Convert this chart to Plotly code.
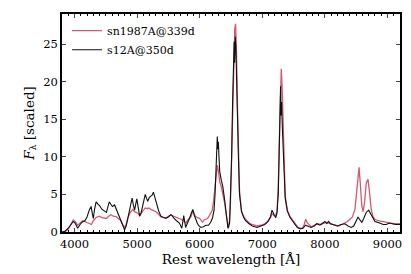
import plotly.graph_objects as go

# s12A@350d (black)
wl_s12 = [3800,3850,3900,3940,3980,4010,4050,4090,4120,4165,4200,4235,4265,4285,4300,4320,4345,4375,4400,4440,4480,4510,4535,4555,4580,4605,4640,4665,4690,4730,4770,4800,4825,4850,4880,4900,4920,4940,4960,4980,4995,5015,5040,5065,5090,5115,5130,5150,5170,5195,5215,5240,5260,5285,5310,5345,5380,5420,5460,5500,5540,5565,5590,5630,5675,5715,5745,5775,5810,5840,5870,5890,5915,5940,5965,5990,6017,6060,6097,6140,6176,6205,6229,6245,6258,6270,6281,6290,6298,6308,6320,6345,6370,6398,6425,6451,6478,6495,6510,6525,6540,6550,6558,6568,6578,6590,6605,6620,6636,6668,6700,6732,6790,6840,6916,6980,7040,7090,7130,7155,7175,7195,7215,7235,7255,7270,7283,7292,7300,7308,7320,7335,7350,7366,7400,7440,7480,7520,7560,7610,7650,7690,7730,7780,7830,7870,7920,7970,8000,8030,8060,8090,8140,8200,8260,8320,8370,8420,8460,8500,8530,8560,8590,8620,8660,8700,8740,8770,8800,8875,8930,8980,9030,9080,9130,9200]
fl_s12 = [0.0,0.1,0.5,1.0,1.4,1.2,0.5,1.0,1.3,1.5,2.0,2.9,3.4,2.4,1.8,3.0,4.0,3.7,3.5,3.0,2.8,2.6,3.4,4.0,3.7,3.4,3.6,3.1,2.6,1.9,1.0,0.3,0.8,1.9,2.8,3.6,4.5,3.6,2.9,3.8,4.4,3.4,2.1,2.6,3.6,4.6,5.0,4.5,4.1,4.6,4.8,4.9,5.3,4.6,3.6,2.8,2.1,1.9,1.8,2.0,2.3,2.1,1.8,1.5,1.2,0.5,2.2,0.6,1.2,1.9,2.6,3.0,2.2,1.5,1.1,0.8,0.6,0.7,0.9,0.9,1.3,1.9,2.9,5.0,7.5,10.5,12.7,11.0,12.0,10.0,8.0,6.9,6.0,4.3,2.1,0.5,1.2,5.0,10.0,17.0,24.3,25.3,22.5,26.0,24.5,19.0,14.0,9.5,5.0,2.7,2.0,1.5,1.1,0.8,0.6,0.8,1.0,1.4,2.0,2.9,2.4,2.2,1.9,2.5,5.0,10.0,17.0,19.4,15.5,17.3,14.0,10.5,7.5,4.5,2.8,2.0,1.5,1.0,0.6,0.4,0.5,0.9,0.8,0.6,0.8,1.1,0.9,1.2,1.4,1.1,1.4,1.1,1.0,0.8,1.0,1.1,0.8,0.6,0.8,1.4,2.0,1.6,1.3,1.8,2.6,2.9,2.3,1.7,1.4,1.2,1.0,1.0,1.2,1.1,1.0,1.0]

# sn1987A@339d (red)
wl_87a = [3800,3860,3900,3940,3980,4010,4050,4090,4130,4165,4200,4240,4270,4300,4340,4370,4400,4440,4480,4510,4545,4580,4620,4670,4700,4730,4770,4800,4825,4850,4890,4930,4960,4985,5010,5040,5070,5100,5130,5160,5190,5220,5260,5300,5340,5380,5420,5460,5500,5540,5580,5620,5660,5700,5740,5780,5820,5860,5890,5905,5930,5965,6000,6045,6070,6100,6125,6150,6180,6200,6220,6240,6260,6281,6300,6320,6345,6370,6400,6420,6440,6460,6475,6490,6505,6525,6545,6560,6573,6588,6605,6625,6636,6668,6700,6732,6790,6837,6916,6980,7040,7090,7130,7155,7180,7210,7235,7255,7272,7288,7303,7318,7335,7350,7366,7400,7440,7482,7520,7560,7600,7640,7670,7693,7720,7780,7830,7880,7930,7980,8030,8080,8140,8213,8270,8320,8360,8400,8440,8480,8510,8530,8546,8565,8590,8610,8635,8660,8689,8710,8740,8770,8800,8850,8900,8950,9030,9100,9200]
fl_87a = [0.0,0.1,0.4,1.0,1.6,1.4,0.9,1.2,1.5,1.4,1.3,1.1,1.0,1.5,1.9,2.0,2.1,1.9,1.9,1.8,2.1,2.3,2.1,2.0,1.8,1.6,1.0,0.6,1.0,1.8,2.6,3.0,2.7,2.6,2.5,2.2,2.5,2.9,3.2,3.1,3.2,3.0,2.9,2.7,2.4,2.0,1.9,1.9,2.1,2.3,2.1,2.0,1.8,1.7,1.5,1.2,1.7,2.0,2.8,2.6,2.1,1.9,1.8,1.3,1.6,1.7,1.8,2.1,2.5,2.9,4.0,5.6,7.5,8.9,8.0,6.7,6.0,5.0,3.8,2.5,1.2,0.5,1.5,3.5,8.0,16.0,24.0,27.0,27.7,24.0,16.0,9.1,5.5,2.8,2.1,1.7,1.2,1.0,0.8,0.9,1.1,1.4,1.9,2.4,2.3,2.1,2.8,6.0,12.0,19.0,21.7,19.0,13.0,9.1,4.8,2.9,2.1,1.6,1.1,0.7,0.5,0.5,1.0,1.7,1.2,0.7,0.9,1.1,1.0,1.2,1.3,1.1,1.0,0.8,1.0,1.2,1.4,1.7,2.0,3.0,5.5,8.0,8.6,6.5,3.5,2.7,4.0,6.5,7.0,5.5,3.0,2.0,1.7,1.5,1.4,1.3,1.2,1.1,1.1]

x_ticks = [4000, 5000, 6000, 7000, 8000, 9000]
y_ticks = [0, 5, 10, 15, 20, 25]

SERIF = "DejaVu Serif"

fig = go.Figure()
fig.add_trace(go.Scatter(x=wl_87a, y=fl_87a, mode="lines", name="sn1987A@339d",
                         line=dict(color="#d05a72", width=1.3)))
fig.add_trace(go.Scatter(x=wl_s12, y=fl_s12, mode="lines", name="s12A@350d",
                         line=dict(color="#111111", width=1.1)))

fig.update_layout(
    width=411, height=274,
    margin=dict(l=62, r=9, t=14, b=42),
    paper_bgcolor="white", plot_bgcolor="white",
    font=dict(family=SERIF, size=12, color="black"),
    showlegend=True,
    legend=dict(x=0.015, y=0.99, xanchor="left", yanchor="top",
                bgcolor="rgba(0,0,0,0)", font=dict(family=SERIF, size=11),
                tracegroupgap=0),
)
fig.update_xaxes(
    range=[3800, 9200], tickvals=x_ticks, ticks="inside", ticklen=4, tickwidth=1,
    showline=True, linecolor="black", linewidth=1.5, mirror="ticks",
    showgrid=False, zeroline=False,
    tickfont=dict(family=SERIF, size=11.5),
    minor=dict(dtick=100, tick0=0, ticks="inside", ticklen=2, tickcolor="black", showgrid=False),
    title=dict(text="Rest wavelength [Å]", font=dict(family=SERIF, size=13.5), standoff=4),
)
fig.update_yaxes(
    range=[0, 29], tickvals=y_ticks, ticks="inside", ticklen=4, tickwidth=1,
    showline=True, linecolor="black", linewidth=1.5, mirror="ticks",
    showgrid=False, zeroline=False,
    tickfont=dict(family=SERIF, size=11.5),
    title=dict(text="<i>F</i><sub>λ</sub> [scaled]", font=dict(family=SERIF, size=13.5), standoff=6),
)

fig.write_html("out.html", config={"displayModeBar": False},
               post_script="document.body.style.margin='0';document.body.style.padding='0';document.body.style.overflow='hidden';")
